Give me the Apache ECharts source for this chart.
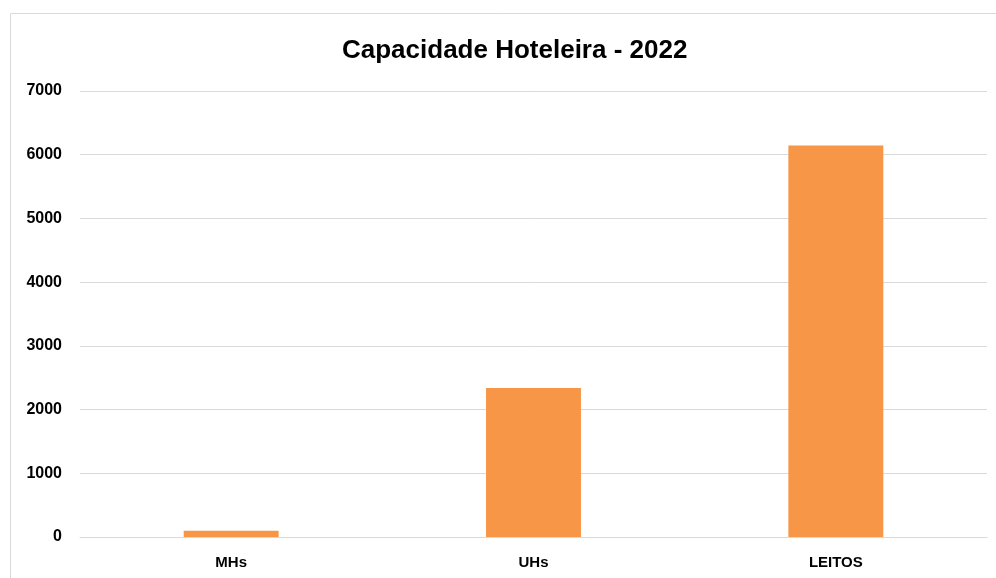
<!DOCTYPE html>
<html>
<head>
<meta charset="utf-8">
<script src="https://cdn.jsdelivr.net/npm/echarts@6/dist/echarts.min.js"></script>
<style>
  html, body { margin: 0; padding: 0; background: #fff; }
  #main { width: 996px; height: 578px; }
</style>
</head>
<body>
<div id="main"></div>
<script>
// dados do gráfico
var categorias = ['MHs', 'UHs', 'LEITOS'];
var valores = [100, 2340, 6145];
var yTicks = [0, 1000, 2000, 3000, 4000, 5000, 6000, 7000];

(function () {
  var myChart = echarts.init(document.getElementById('main'));
  var fonte = 'Liberation Sans, Arial, sans-serif';

  var option = {
    backgroundColor: '#fff',
    animation: false,
    // borda da área do gráfico (estilo Excel)
    graphic: [{
      type: 'rect',
      shape: { x: 10.5, y: 13.5, width: 1000, height: 600 },
      style: { fill: 'none', stroke: '#d9d9d9', lineWidth: 1 },
      silent: true
    }],
    title: {
      text: 'Capacidade Hoteleira - 2022',
      left: 337,
      top: 33,
      textStyle: { fontFamily: fonte, fontSize: 26, fontWeight: 'bold', color: '#000' }
    },
    grid: { left: 80, right: 9, top: 91, bottom: 41 },
    xAxis: {
      type: 'category',
      data: categorias,
      axisLine: { show: true, lineStyle: { color: '#d9d9d9' } },
      axisTick: { show: false },
      axisLabel: { fontFamily: fonte, fontSize: 15, fontWeight: 'bold', color: '#000', margin: 18 }
    },
    yAxis: {
      type: 'value',
      min: yTicks[0],
      max: yTicks[yTicks.length - 1],
      interval: 1000,
      axisLine: { show: false },
      axisTick: { show: false },
      splitLine: { lineStyle: { color: '#d9d9d9', width: 1 } },
      axisLabel: {
        fontFamily: fonte, fontSize: 16, fontWeight: 'bold', color: '#000', margin: 18,
        formatter: function (v) { return String(v); }
      }
    },
    series: [{
      type: 'bar',
      data: valores,
      barWidth: '31.4%',
      itemStyle: { color: '#f79646' }
    }]
  };

  myChart.setOption(option);
  window.addEventListener('resize', function () {
    myChart.resize();
  });
})();
</script>
</body>
</html>
